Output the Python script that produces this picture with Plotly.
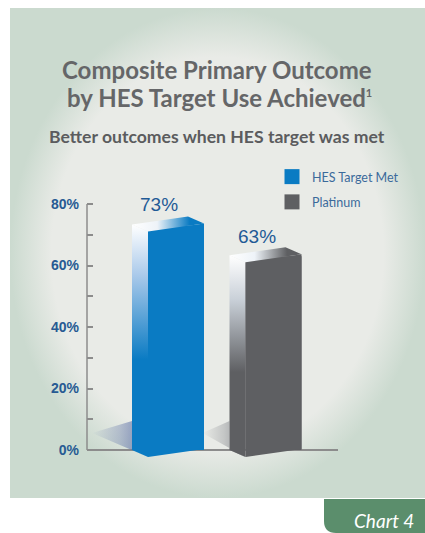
import plotly.graph_objects as go

# ---------------- data ----------------
categories = ["HES Target Met", "Platinum"]
values = [73, 63]
value_labels = ["73%", "63%"]
major_ticks = [0, 20, 40, 60, 80]
major_text = ["0%", "20%", "40%", "60%", "80%"]
minor_step = 10
title_lines = ["Composite Primary Outcome",
               "by HES Target Use Achieved<sup><span style='font-size:11px'>1</span></sup>"]
subtitle = "Better outcomes when HES target was met"
tab_label = "Chart 4"

# ---------------- styles ----------------
W, H = 425, 533
front_colors = ["#0a7bc3", "#5e5f62"]
shadow_rgb = ["90,110,165", "128,130,136"]
shadow_len_px = [40, 27]
label_color = "#1f5a96"
tick_color = "#8c8c8c"
title_color = "#656668"
panel_center = "#e9ebe7"
panel_edge = "#cbdacf"
tab_color = "#5b8e6c"

# main plot geometry (pixels)
X_L, X_R = 87, 338
Y0_PX, Y80_PX = 450, 204
PYU = (Y0_PX - Y80_PX) / 80.0
y_range = [-8, 85]
plot_bottom_px = Y0_PX - y_range[0] * PYU
plot_top_px = Y0_PX - y_range[1] * PYU
ydom = [1 - plot_bottom_px / H, 1 - plot_top_px / H]
cat_px = [176, 273.5]
PXU = cat_px[1] - cat_px[0]
x_range = [-(cat_px[0] - X_L) / PXU, 1 + (X_R - cat_px[1]) / PXU]
xdom = [X_L / W, X_R / W]

bar_w = 56 / PXU
depth_x = -16 / PXU
depth_y = 7 / PYU
skew = 8 / PYU
top_off = -6 / PYU
bot_off = -7 / PYU

fig = go.Figure()

# background panel (pixel axes x/y)
fig.add_trace(go.Scatter(
    x=[10, 425, 425, 10, 10], y=[8, 8, 498, 498, 8],
    xaxis="x", yaxis="y", mode="lines", line=dict(width=0),
    fill="toself",
    fillgradient=dict(type="radial",
                      colorscale=[[0, panel_center], [0.8, panel_center], [1, panel_edge]]),
    hoverinfo="skip", showlegend=False))

xs = list(range(len(categories)))

# main bars (front faces)
for i, (c, v) in enumerate(zip(categories, values)):
    fig.add_trace(go.Bar(
        x=[xs[i]], y=[v], width=bar_w, name=c, marker=dict(color=front_colors[i], line=dict(width=0)),
        xaxis="x2", yaxis="y2", showlegend=False, hovertemplate=c + ": %{y}%<extra></extra>"))

# 3D decoration derived from the values
for i, v in enumerate(values):
    xl = xs[i] - bar_w / 2
    xr = xs[i] + bar_w / 2
    xb = xl + depth_x
    col = front_colors[i]
    sl = shadow_len_px[i] / PXU
    fig.add_trace(go.Scatter(
        x=[xb - sl, xb, xb, xl, xb - sl],
        y=[17 / PYU, 29 / PYU, bot_off + depth_y, bot_off, 17 / PYU],
        xaxis="x2", yaxis="y2", mode="lines", line=dict(width=0), fill="toself",
        fillgradient=dict(type="horizontal", colorscale=[
            [0, "rgba(%s,0)" % shadow_rgb[i]], [0.5, "rgba(%s,0.35)" % shadow_rgb[i]],
            [1, "rgba(%s,0.85)" % shadow_rgb[i]]]),
        hoverinfo="skip", showlegend=False))
    fig.add_trace(go.Scatter(
        x=[xl, xl, xb, xb, xl],
        y=[v + top_off, bot_off, bot_off + depth_y, v + top_off + depth_y, v + top_off],
        xaxis="x2", yaxis="y2", mode="lines", line=dict(width=0), fill="toself",
        fillgradient=dict(type="vertical", colorscale=[
            [0, col], [0.42, col], [0.78, "#c9d0d8" if i else "#a9c9ea"], [1, "#ffffff"]]),
        hoverinfo="skip", showlegend=False))
    fig.add_trace(go.Scatter(
        x=[xl, xl, xr, xr, xl],
        y=[bot_off, v + top_off, v + top_off + skew, bot_off + skew, bot_off],
        xaxis="x2", yaxis="y2", mode="lines", line=dict(width=0), fill="toself",
        fillcolor=col, hoverinfo="skip", showlegend=False))
    fig.add_trace(go.Scatter(
        x=[xl, xr, xr + depth_x, xb, xl],
        y=[v + top_off, v + top_off + skew, v + top_off + skew + depth_y,
           v + top_off + depth_y, v + top_off],
        xaxis="x2", yaxis="y2", mode="lines", line=dict(width=0), fill="toself",
        fillgradient=dict(type="horizontal", colorscale=[
            [0, "#ffffff"], [0.35, "#eef3f8"], [0.8, col], [1, col]]),
        hoverinfo="skip", showlegend=False))

# legend entries
for i, c in enumerate(categories):
    fig.add_trace(go.Scatter(
        x=[None], y=[None], mode="markers", name=c, xaxis="x2", yaxis="y2",
        marker=dict(symbol="square", size=15, color=front_colors[i]),
        legendgroup=c))

annotations = []
for i, v in enumerate(values):
    annotations.append(dict(
        x=xs[i], y=v, xref="x2", yref="y2", text=value_labels[i], showarrow=False,
        xanchor="center", yanchor="bottom", xshift=-17, yshift=9 if i == 0 else 7,
        font=dict(family="Liberation Sans, Arial", size=19, color=label_color)))

annotations += [
    dict(x=217, y=69, xref="x", yref="y", text=title_lines[0], showarrow=False,
         xanchor="center", yanchor="middle",
         font=dict(family="Lato", size=24, color=title_color, weight="bold")),
    dict(x=219, y=97, xref="x", yref="y", text=title_lines[1], showarrow=False,
         xanchor="center", yanchor="middle",
         font=dict(family="Lato", size=24, color=title_color, weight="bold")),
    dict(x=217, y=136, xref="x", yref="y", text=subtitle, showarrow=False,
         xanchor="center", yanchor="middle",
         font=dict(family="Lato", size=17.6, color="#5b5c5e", weight="bold")),
    dict(x=416, y=520, xref="x", yref="y", text=tab_label, showarrow=False,
         xanchor="right", yanchor="middle",
         font=dict(family="Lato", size=19, color="#ffffff", style="italic")),
]

shapes = [
    dict(type="line", xref="x2 domain", yref="y2", x0=0, x1=0, y0=0, y1=major_ticks[-1],
         line=dict(color=tick_color, width=1.5), layer="above"),
    dict(type="path", xref="x", yref="y",
         path="M 324 499 L 425 499 L 425 533 L 336 533 Q 324 533 324 521 Z",
         fillcolor=tab_color, line=dict(width=0), layer="below"),
]

fig.update_layout(
    width=W, height=H, margin=dict(l=0, r=0, t=0, b=0),
    paper_bgcolor="#ffffff", plot_bgcolor="rgba(0,0,0,0)",
    template="none", barmode="overlay",
    xaxis=dict(domain=[0, 1], range=[0, W], visible=False, fixedrange=True),
    yaxis=dict(domain=[0, 1], range=[H, 0], visible=False, fixedrange=True),
    xaxis2=dict(domain=xdom, range=x_range, anchor="y2", visible=False, fixedrange=True),
    yaxis2=dict(domain=ydom, range=y_range, anchor="x2", showgrid=False,
                showline=False, zeroline=True, zerolinecolor=tick_color, zerolinewidth=1.5,
                tickmode="array", tickvals=major_ticks, ticktext=major_text,
                ticks="inside", ticklen=6, tickwidth=1.5, tickcolor=tick_color,
                minor=dict(ticks="inside", ticklen=6, tickwidth=1.5, tickcolor=tick_color,
                           tick0=0, dtick=minor_step, showgrid=False),
                ticklabelstandoff=7,
                tickfont=dict(family="Liberation Sans, Arial", size=14, color="#275a93",
                              weight="bold"),
                fixedrange=True, layer="below traces"),
    legend=dict(x=272 / W, y=1 - 162 / H, xanchor="left", yanchor="top",
                bgcolor="rgba(0,0,0,0)", borderwidth=0, traceorder="grouped",
                tracegroupgap=6, itemclick=False, itemdoubleclick=False,
                font=dict(family="Lato", size=12.5, color="#3b6a9b")),
    annotations=annotations, shapes=shapes,
)

fig.write_html("out.html")
